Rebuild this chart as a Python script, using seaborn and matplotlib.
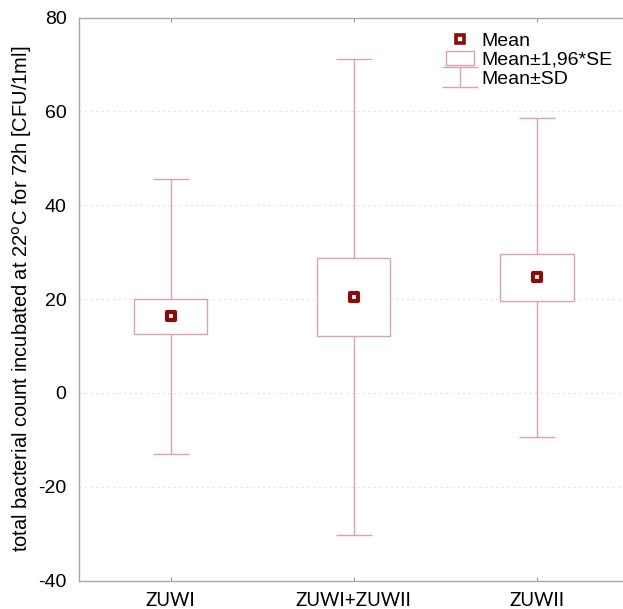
import matplotlib
matplotlib.use("Agg")
import matplotlib.pyplot as plt
from matplotlib.patches import Rectangle
from matplotlib.lines import Line2D
import numpy as np
import pandas as pd
import seaborn as sns

# values
groups = ["ZUWI", "ZUWI+ZUWII", "ZUWII"]
means = [16.4, 20.5, 24.7]
se_low = [12.5, 12.2, 19.5]
se_high = [20.1, 28.7, 29.7]
sd_low = [-13.0, -30.3, -9.3]
sd_high = [45.6, 71.1, 58.6]

line_col = "#d9a3ac"
mean_col = "#8b0a0a"

sns.set_style("white")
plt.rcParams['font.family'] = ['Liberation Sans', 'DejaVu Sans']
plt.rcParams['axes.unicode_minus'] = False
plt.rcParams['text.color'] = 'black'
plt.rcParams['axes.labelcolor'] = 'black'
plt.rcParams['xtick.color'] = 'black'
plt.rcParams['ytick.color'] = 'black'

fig = plt.figure(figsize=(6.23, 6.09), dpi=100)
ax = fig.add_axes([79 / 623, 1 - 580.7 / 609, 544 / 623, (580.7 - 17.5) / 609])

df = pd.DataFrame({"group": groups, "mean": means,
                   "se_low": se_low, "se_high": se_high,
                   "sd_low": sd_low, "sd_high": sd_high})
xpos = np.arange(len(groups))

# whiskers (mean +- SD)
yerr = [df["mean"] - df["sd_low"], df["sd_high"] - df["mean"]]
eb = ax.errorbar(xpos, df["mean"], yerr=yerr, fmt="none", ecolor=line_col,
                 elinewidth=1.0, capsize=13, capthick=1.0, zorder=2)

# boxes (mean +- 1.96*SE)
bw = 0.40
for i, row in df.iterrows():
    ax.add_patch(Rectangle((xpos[i] - bw / 2, row["se_low"]), bw,
                           row["se_high"] - row["se_low"],
                           facecolor="white", edgecolor=line_col, lw=1.0, zorder=3))

# means
sns.scatterplot(x=xpos, y=df["mean"], marker="s", s=34, color="white",
                edgecolor=mean_col, linewidth=3.0, zorder=4, ax=ax, legend=False)

ax.set_xlim(-0.5, 2.47)
ax.set_ylim(-40, 80)
ax.set_yticks([-40, -20, 0, 20, 40, 60, 80])
ax.set_xticks(xpos)
ax.set_xticklabels(groups, family=["Lato", "DejaVu Sans"], fontsize=13.5)
ax.tick_params(axis="y", labelsize=14, direction="in", length=3, color="#999999", pad=9)
ax.tick_params(axis="x", direction="in", length=3, color="#999999", top=True, bottom=True, pad=8)
ax.set_ylabel("total bacterial count incubated at 22$^{\\mathrm{o}}$C for 72h [CFU/1ml]",
              fontsize=14.5, labelpad=3)
ax.grid(axis="y", linestyle=(0, (2, 3)), color="#e2e2e2", lw=0.8)
for s in ["left", "bottom", "top"]:
    ax.spines[s].set_color("#a8a8a8")
    ax.spines[s].set_linewidth(1.0)
ax.spines["right"].set_visible(False)

h_mean = Line2D([], [], marker="s", ls="none", markersize=5.5, markerfacecolor="white",
                markeredgecolor=mean_col, markeredgewidth=2.6)
h_box = Rectangle((0, 0), 1, 1, facecolor="white", edgecolor=line_col, lw=1.0)
fig.legend([h_mean, h_box, eb], ["Mean", "Mean\u00b11,96*SE", "Mean\u00b1SD"],
           loc="upper left", bbox_to_anchor=(436 / 623, 1 - 22 / 609),
           frameon=False, fontsize=14, borderpad=0, labelspacing=0.06,
           handlelength=1.45, handleheight=0.75, handletextpad=0.4)

fig.savefig("out.png", dpi=100, facecolor="white")
